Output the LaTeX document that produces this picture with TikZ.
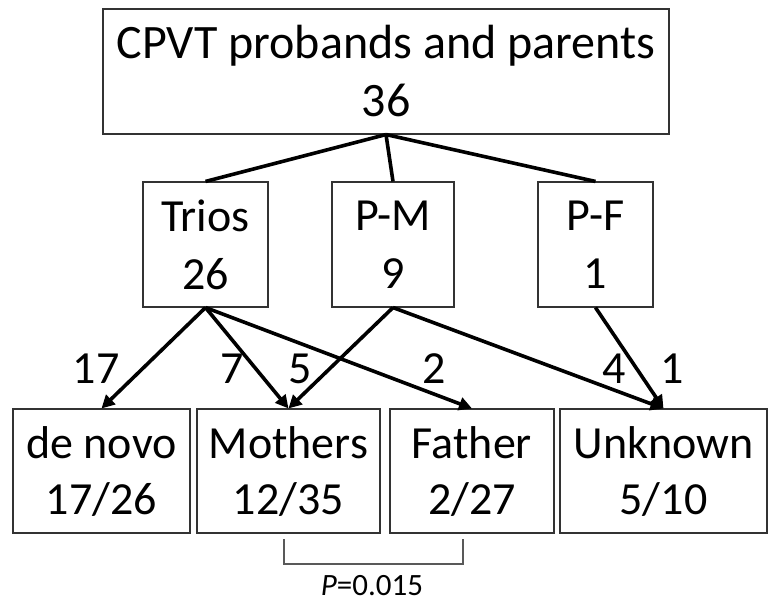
\documentclass[tikz,border=0pt]{standalone}
\usepackage{fontspec}
\setmainfont{Carlito}
\usetikzlibrary{arrows.meta}
\begin{document}
\begin{tikzpicture}[x=1pt,y=-1pt,
  box/.style={draw=black!80, line width=1.1pt, align=center, inner sep=0pt,
    font=\fontsize{46}{58}\selectfont},
  lowbox/.style={box, font=\fontsize{46}{56}\selectfont, minimum height=124pt},
  midbox/.style={box, minimum height=125pt},
  conn/.style={line width=3.6pt, black},
  arr/.style={conn, -{Triangle[length=13pt,width=13pt]}},
  num/.style={font=\fontsize{46}{56}\selectfont, anchor=base, inner sep=0pt},
  bracket/.style={draw=black!65, line width=1.2pt},
]
\useasboundingbox (0,0) rectangle (769,603);

\node[box, font=\fontsize{48}{58}\selectfont, minimum width=566pt, minimum height=125pt] (top) at (386,71.5) {CPVT probands and parents\\36};

\node[midbox, minimum width=125pt] (trios) at (205.5,244.5) {Trios\\26};
\node[midbox, minimum width=122pt] (pm) at (393,244.5) {P-M\\9};
\node[midbox, minimum width=115pt] (pf) at (595.5,244.5) {P-F\\1};

\node[lowbox, minimum width=177pt] (denovo) at (101.5,471) {de novo\\17/26};
\node[lowbox, minimum width=183pt] (mothers) at (288.5,471) {Mothers\\12/35};
\node[lowbox, minimum width=164pt] (father) at (472,471) {Father\\2/27};
\node[lowbox, minimum width=207pt] (unknown) at (663.5,471) {Unknown\\5/10};

\draw[conn] (top.south) -- (trios.north);
\draw[conn] (top.south) -- (pm.north);
\draw[conn] (top.south) -- (pf.north);

\draw[arr] (trios.south) -- (denovo.north);
\draw[arr] (trios.south) -- (mothers.north);
\draw[arr] (trios.south) -- (father.north);
\draw[arr] (pm.south) -- (mothers.north);
\draw[arr] (pm.south) -- (unknown.north);
\draw[arr] (pf.south) -- (unknown.north);

\node[num] (l17) at (96,383) {17};
\node[num] (l7) at (232,383) {7};
\node[num] (l5) at (300,383) {5};
\node[num] (l2) at (434,383) {2};
\node[num] (l4) at (614,383) {4};
\node[num] (l1) at (672,383) {1};

\coordinate (b1) at (284,539);
\coordinate (b2) at (284,564);
\coordinate (b3) at (463,564);
\coordinate (b4) at (463,539);
\draw[bracket] (b1) -- (b2) -- (b3) -- (b4);

\node[font=\fontsize{31}{36}\selectfont, anchor=base, inner sep=0pt] (pval) at (372,595) {\textit{P}=0.015};
\end{tikzpicture}
\end{document}
